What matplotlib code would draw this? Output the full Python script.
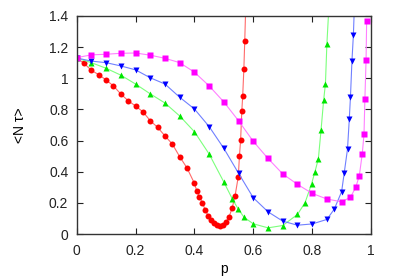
import numpy as np
import matplotlib
matplotlib.use('Agg')
import matplotlib.pyplot as plt

plt.rcParams['font.family'] = ['Liberation Sans', 'DejaVu Sans']

# red circles
p_red = [0, 0.025, 0.05, 0.075, 0.1, 0.125, 0.15, 0.175, 0.2, 0.225, 0.25, 0.275,
         0.3, 0.325, 0.35, 0.375, 0.4, 0.408, 0.417, 0.427, 0.437, 0.447, 0.457,
         0.468, 0.478, 0.487, 0.496, 0.506, 0.517, 0.528, 0.538, 0.549, 0.553,
         0.557, 0.561, 0.564, 0.568, 0.571, 0.575]
y_red = [1.13, 1.096, 1.051, 1.023, 0.989, 0.951, 0.899, 0.856, 0.822, 0.785, 0.728, 0.685,
         0.63, 0.578, 0.497, 0.424, 0.326, 0.278, 0.24, 0.201, 0.154, 0.116, 0.09,
         0.069, 0.058, 0.053, 0.058, 0.075, 0.107, 0.165, 0.244, 0.368, 0.50,
         0.604, 0.79, 0.884, 1.06, 1.24, 1.5]

# green triangles
p_green = [0, 0.05, 0.1, 0.15, 0.2, 0.25, 0.3, 0.35, 0.4, 0.45, 0.5, 0.529, 0.549,
           0.569, 0.6, 0.65, 0.7, 0.75, 0.776, 0.798, 0.809, 0.821, 0.83, 0.839,
           0.845, 0.85, 0.858]
y_green = [1.13, 1.10, 1.064, 1.02, 0.963, 0.90, 0.841, 0.758, 0.657, 0.514, 0.334, 0.225, 0.16,
           0.107, 0.066, 0.04, 0.055, 0.126, 0.202, 0.323, 0.397, 0.483, 0.665, 0.861,
           0.964, 1.222, 1.5]

# blue down-triangles
p_blue = [0, 0.05, 0.1, 0.15, 0.2, 0.25, 0.3, 0.35, 0.4, 0.45, 0.5, 0.55, 0.6, 0.65,
          0.7, 0.75, 0.8, 0.85, 0.875, 0.9, 0.909, 0.92, 0.926, 0.93, 0.935, 0.94, 0.944]
y_blue = [1.13, 1.11, 1.10, 1.079, 1.054, 1.003, 0.963, 0.878, 0.803, 0.69, 0.55, 0.39, 0.233, 0.143,
          0.083, 0.057, 0.065, 0.094, 0.16, 0.272, 0.395, 0.546, 0.737, 0.88, 1.109, 1.28, 1.5]

# magenta squares
p_mag = [0, 0.05, 0.1, 0.15, 0.2, 0.25, 0.3, 0.35, 0.4, 0.45, 0.5, 0.55, 0.6, 0.65,
         0.7, 0.75, 0.8, 0.85, 0.9, 0.93, 0.948, 0.96, 0.97, 0.976, 0.979, 0.983, 0.985]
y_mag = [1.132, 1.15, 1.154, 1.16, 1.162, 1.148, 1.128, 1.10, 1.039, 0.951, 0.848, 0.727, 0.595, 0.485,
         0.386, 0.319, 0.261, 0.225, 0.207, 0.236, 0.30, 0.374, 0.514, 0.64, 0.867, 1.116, 1.366]

fig = plt.figure(figsize=(3.99, 2.79), dpi=100)
ax = fig.add_axes([0.192, 0.161, 0.738, 0.782])

ax.plot(p_red, y_red, '-', color='#ff6a6a', lw=0.8, marker='o', ms=4.3, mec='none', mfc='#ff0000')
ax.plot(p_green, y_green, '-', color='#7cff7c', lw=0.8, marker='^', ms=4.3, mec='none', mfc='#00e600')
ax.plot(p_blue, y_blue, '-', color='#7080ff', lw=0.8, marker='v', ms=4.3, mec='none', mfc='#0000ff')
ax.plot(p_mag, y_mag, '-', color='#ff80ff', lw=0.8, marker='s', ms=4.3, mec='none', mfc='#ff00ff')

ax.set_xlim(0, 1)
ax.set_ylim(0, 1.4)
ax.set_xticks([0, 0.2, 0.4, 0.6, 0.8, 1])
ax.set_xticklabels(['0', '0.2', '0.4', '0.6', '0.8', '1'])
ax.set_yticks([0, 0.2, 0.4, 0.6, 0.8, 1, 1.2, 1.4])
ax.set_yticklabels(['0', '0.2', '0.4', '0.6', '0.8', '1', '1.2', '1.4'])
ax.tick_params(direction='in', length=4, width=0.8, top=True, right=True,
               labelsize=10, colors='#222222')
ax.tick_params(axis='x', pad=7)
ax.tick_params(axis='y', pad=6)
for s in ax.spines.values():
    s.set_linewidth(1.0)
    s.set_color('#333333')

ax.set_xlabel('p', fontsize=10, labelpad=3)
ax.set_ylabel('<N τ>', fontsize=10, labelpad=16)

fig.savefig('out.png', dpi=100)
